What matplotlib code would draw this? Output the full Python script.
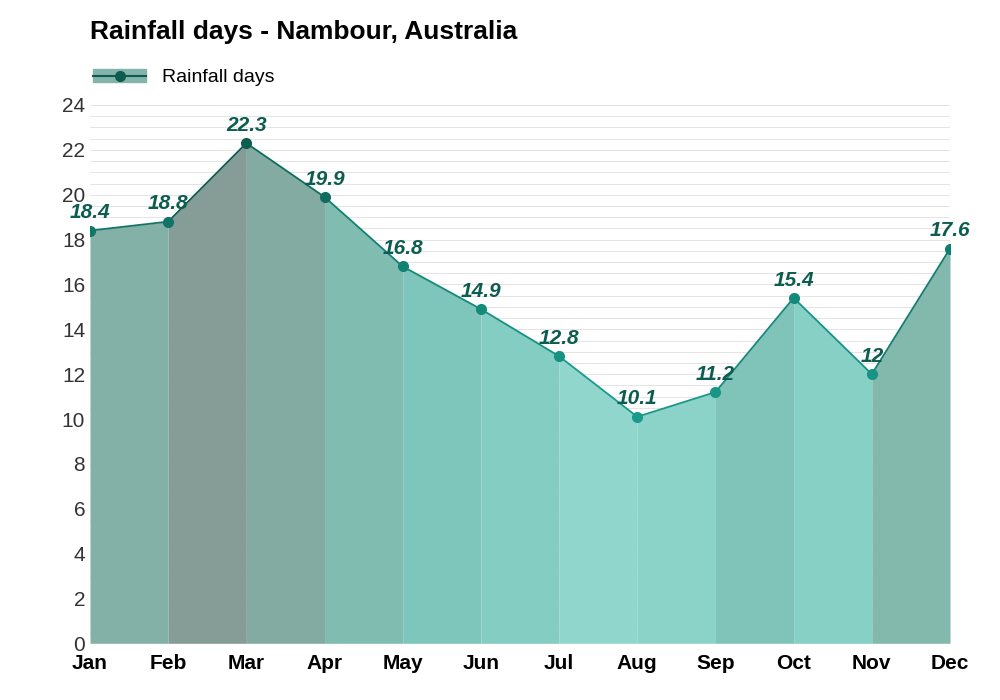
import matplotlib.pyplot as plt
import numpy as np
from matplotlib.colors import LinearSegmentedColormap
from matplotlib.lines import Line2D
from matplotlib.patches import Patch

plt.rcParams["font.family"] = "Liberation Sans"

months = ["Jan", "Feb", "Mar", "Apr", "May", "Jun", "Jul", "Aug", "Sep", "Oct", "Nov", "Dec"]
rain_days = [18.4, 18.8, 22.3, 19.9, 16.8, 14.9, 12.8, 10.1, 11.2, 15.4, 12.0, 17.6]

fill_cmap = LinearSegmentedColormap.from_list("f", ["#90d6cc", "#7dc9bf", "#84b4a9", "#859c95"])
line_cmap = LinearSegmentedColormap.from_list("l", ["#1a9a8a", "#138577", "#0d5c50"])

def norm(v):
    return np.clip((v - 10) / 12.5, 0, 1)

fig = plt.figure(figsize=(10, 7), dpi=100)
ax = fig.add_axes([0.09, 0.081, 0.86, 0.769])
x = np.arange(len(months))

for i in range(len(x) - 1):
    c = fill_cmap(norm(rain_days[i + 1]))
    ax.fill_between(x[i:i + 2], rain_days[i:i + 2], 0, color=c, lw=0, zorder=2)
    ax.plot(x[i:i + 2], rain_days[i:i + 2], color=line_cmap(norm(rain_days[i + 1])), lw=1.3, zorder=3)

for xi, v in zip(x, rain_days):
    ax.plot(xi, v, "o", ms=7, color=line_cmap(norm(v)), zorder=4)
    ax.annotate(f"{v:g}", (xi, v), xytext=(0, 6), textcoords="offset points",
                ha="center", va="bottom", fontsize=15, fontweight="bold", fontstyle="italic",
                color="#0d5c50", zorder=5)

for yy in np.arange(0, 24.01, 0.5):
    ax.axhline(yy, color="#e4e4e4", lw=0.7, zorder=1)

ax.set_xlim(0, 11)
ax.set_ylim(0, 24)
ax.set_yticks(range(0, 25, 2))
ax.set_xticks(x)
ax.set_xticklabels(months, fontsize=15, fontweight="bold")
ax.tick_params(axis="y", labelsize=15, length=0, labelcolor="#333333")
ax.tick_params(axis="x", length=0, pad=8)
for s in ax.spines.values():
    s.set_visible(False)

fig.text(0.09, 0.954, "Rainfall days - Nambour, Australia", fontsize=19, fontweight="bold", va="center")
handle = (Patch(color="#84b4a9"), Line2D([], [], color="#0d5c50", marker="o", ms=7, lw=1.5))
ax.legend([handle], ["Rainfall days"], loc="lower left", bbox_to_anchor=(-0.005, 1.02),
          frameon=False, fontsize=14, handlelength=2.7, borderaxespad=0)

fig.savefig("out.png", dpi=100)
